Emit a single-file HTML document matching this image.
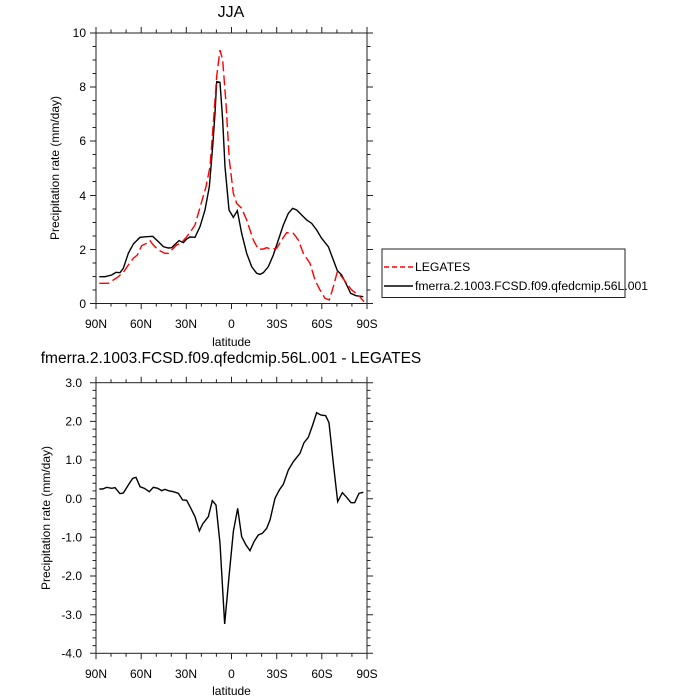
<!DOCTYPE html>
<html><head><meta charset="utf-8"><style>
html,body{margin:0;padding:0;background:#fff}
svg{display:block;font-family:"Liberation Sans",sans-serif}
</style></head><body>
<svg width="700" height="700" viewBox="0 0 700 700" xmlns="http://www.w3.org/2000/svg">
<g id="top">
<text x="231" y="17" font-size="16" text-anchor="middle">JJA</text>
<rect x="96" y="33" width="271" height="270.5" fill="none" stroke="#222" stroke-width="1"/>
<g stroke="#222" stroke-width="1">
<path d="M96 303v6M141.2 303v6M186.3 303v6M231.5 303v6M276.7 303v6M321.8 303v6M367 303v6
M96 33v-6M141.2 33v-6M186.3 33v-6M231.5 33v-6M276.7 33v-6M321.8 33v-6M367 33v-6
M111 303v3.5M126.1 303v3.5M156.3 303v3.5M171.3 303v3.5M201.4 303v3.5M216.4 303v3.5M246.6 303v3.5M261.6 303v3.5M291.7 303v3.5M306.8 303v3.5M336.9 303v3.5M351.9 303v3.5
M111 33v-3.5M126.1 33v-3.5M156.3 33v-3.5M171.3 33v-3.5M201.4 33v-3.5M216.4 33v-3.5M246.6 33v-3.5M261.6 33v-3.5M291.7 33v-3.5M306.8 33v-3.5M336.9 33v-3.5M351.9 33v-3.5
M96 33h-6M96 87h-6M96 141h-6M96 195.5h-6M96 249.5h-6M96 303.5h-6
M367 33h6M367 87h6M367 141h6M367 195.5h6M367 249.5h6M367 303.5h6
M96 46.5h-3.5M96 60h-3.5M96 73.5h-3.5M96 100.5h-3.5M96 114h-3.5M96 127.5h-3.5M96 154.5h-3.5M96 168h-3.5M96 181.5h-3.5M96 209h-3.5M96 222.5h-3.5M96 236h-3.5M96 263h-3.5M96 276.5h-3.5M96 290h-3.5
M367 46.5h3.5M367 60h3.5M367 73.5h3.5M367 100.5h3.5M367 114h3.5M367 127.5h3.5M367 154.5h3.5M367 168h3.5M367 181.5h3.5M367 209h3.5M367 222.5h3.5M367 236h3.5M367 263h3.5M367 276.5h3.5M367 290h3.5"/>
</g>
<g font-size="12" text-anchor="end">
<text x="86" y="37">10</text><text x="86" y="91">8</text><text x="86" y="145">6</text><text x="86" y="200">4</text><text x="86" y="254">2</text><text x="86" y="308">0</text>
</g>
<g font-size="12" text-anchor="middle">
<text x="96" y="328">90N</text><text x="141" y="328">60N</text><text x="186" y="328">30N</text><text x="231.5" y="328">0</text><text x="277" y="328">30S</text><text x="322" y="328">60S</text><text x="367" y="328">90S</text>
<text x="231.5" y="346">latitude</text>
</g>
<text transform="translate(59,168) rotate(-90)" font-size="12" text-anchor="middle">Precipitation rate (mm/day)</text>
<g transform="translate(80,20) scale(0.33333)" fill="none" stroke-width="4.2">
<polyline stroke="#000" points="58,770 75,770 95,765 108,757 120,758 130,745 145,700 160,672 180,652 200,650 218,649 235,665 250,680 265,684 275,683 285,673 297,662 310,668 320,657 330,651 345,652 360,620 375,570 388,500 398,380 405,280 410,185 420,187 428,300 435,440 447,570 460,592 472,572 485,640 500,700 515,740 530,760 540,763 550,758 565,740 580,705 595,660 610,615 625,580 638,565 650,570 665,585 680,600 695,610 710,630 725,655 745,680 760,720 772,752 785,765 800,795 812,820 828,827 850,830"/>
<polyline stroke="#f00" stroke-dasharray="30,12" points="58,790 85,790 100,780 115,770 130,757 145,735 160,715 172,705 185,677 200,670 210,662 220,675 235,690 255,700 265,700 275,690 290,675 305,668 320,650 335,630 345,615 355,580 365,545 378,500 390,440 400,310 410,170 420,90 428,120 438,250 448,420 460,520 470,550 485,565 500,600 510,630 520,660 535,688 550,687 560,683 575,688 590,685 605,660 620,638 640,640 655,660 670,700 690,730 705,780 720,810 735,835 748,840 760,800 772,755 785,770 800,790 815,810 835,825 852,845"/>
</g>
<rect x="382" y="249" width="243" height="48.5" fill="#fff" stroke="#222" stroke-width="1"/>
<line x1="384" y1="267" x2="413" y2="267" stroke="#f00" stroke-width="1.4" stroke-dasharray="5,3"/>
<line x1="384" y1="286" x2="413" y2="286" stroke="#000" stroke-width="1.4"/>
<text x="415" y="271" font-size="12.2">LEGATES</text>
<text x="415" y="290" font-size="12.2">fmerra.2.1003.FCSD.f09.qfedcmip.56L.001</text>
</g>

<g id="bottom">
<text x="231" y="363" font-size="15.5" text-anchor="middle">fmerra.2.1003.FCSD.f09.qfedcmip.56L.001 - LEGATES</text>
<rect x="96" y="382.7" width="271" height="270.6" fill="none" stroke="#222" stroke-width="1"/>
<g stroke="#222" stroke-width="1">
<path d="M96 653.3v6M141.2 653.3v6M186.3 653.3v6M231.5 653.3v6M276.7 653.3v6M321.8 653.3v6M367 653.3v6
M96 382.7v-6M141.2 382.7v-6M186.3 382.7v-6M231.5 382.7v-6M276.7 382.7v-6M321.8 382.7v-6M367 382.7v-6
M111 653.3v3.5M126.1 653.3v3.5M156.3 653.3v3.5M171.3 653.3v3.5M201.4 653.3v3.5M216.4 653.3v3.5M246.6 653.3v3.5M261.6 653.3v3.5M291.7 653.3v3.5M306.8 653.3v3.5M336.9 653.3v3.5M351.9 653.3v3.5
M111 382.7v-3.5M126.1 382.7v-3.5M156.3 382.7v-3.5M171.3 382.7v-3.5M201.4 382.7v-3.5M216.4 382.7v-3.5M246.6 382.7v-3.5M261.6 382.7v-3.5M291.7 382.7v-3.5M306.8 382.7v-3.5M336.9 382.7v-3.5M351.9 382.7v-3.5"/>
</g>
<g stroke="#222" stroke-width="1" id="yticks"></g>
<g font-size="12" text-anchor="end">
<text x="82" y="387">3.0</text><text x="82" y="425.5">2.0</text><text x="82" y="464">1.0</text><text x="82" y="503">0.0</text><text x="82" y="541.5">-1.0</text><text x="82" y="580">-2.0</text><text x="82" y="619">-3.0</text><text x="82" y="657.5">-4.0</text>
</g>
<g font-size="12" text-anchor="middle">
<text x="96" y="678">90N</text><text x="141" y="678">60N</text><text x="186" y="678">30N</text><text x="231.5" y="678">0</text><text x="277" y="678">30S</text><text x="322" y="678">60S</text><text x="367" y="678">90S</text>
<text x="231.5" y="695">latitude</text>
</g>
<text transform="translate(50,518) rotate(-90)" font-size="12" text-anchor="middle">Precipitation rate (mm/day)</text>
<g transform="translate(80,370) scale(0.33333)" fill="none" stroke-width="4.2">
<polyline stroke="#000" points="58,357 68,357 80,352 95,355 105,353 120,371 130,369 145,345 158,325 168,322 180,350 193,355 208,365 220,352 233,355 245,362 255,358 265,362 280,365 295,370 308,390 320,391 330,410 345,440 358,483 368,462 385,440 397,392 408,405 420,520 434,762 447,620 460,485 473,415 485,500 498,525 510,542 522,515 535,495 547,490 560,475 570,450 585,385 598,360 610,343 625,300 640,275 660,250 672,218 685,202 698,165 710,128 722,135 737,137 747,158 760,280 773,395 787,368 800,382 813,398 824,398 837,370 850,367"/>
</g>
</g>
<script>
(function(){
var g=document.getElementById('yticks'),d='';
var top=382.7,step=38.66/5;
for(var i=0;i<=35;i++){var y=(top+i*step).toFixed(1);var L=(i%5==0)?6:3.5;
d+='M96 '+y+'h-'+L+'M367 '+y+'h'+L;}
var p=document.createElementNS('http://www.w3.org/2000/svg','path');p.setAttribute('d',d);g.appendChild(p);
})();
</script>
</svg>
</body></html>
